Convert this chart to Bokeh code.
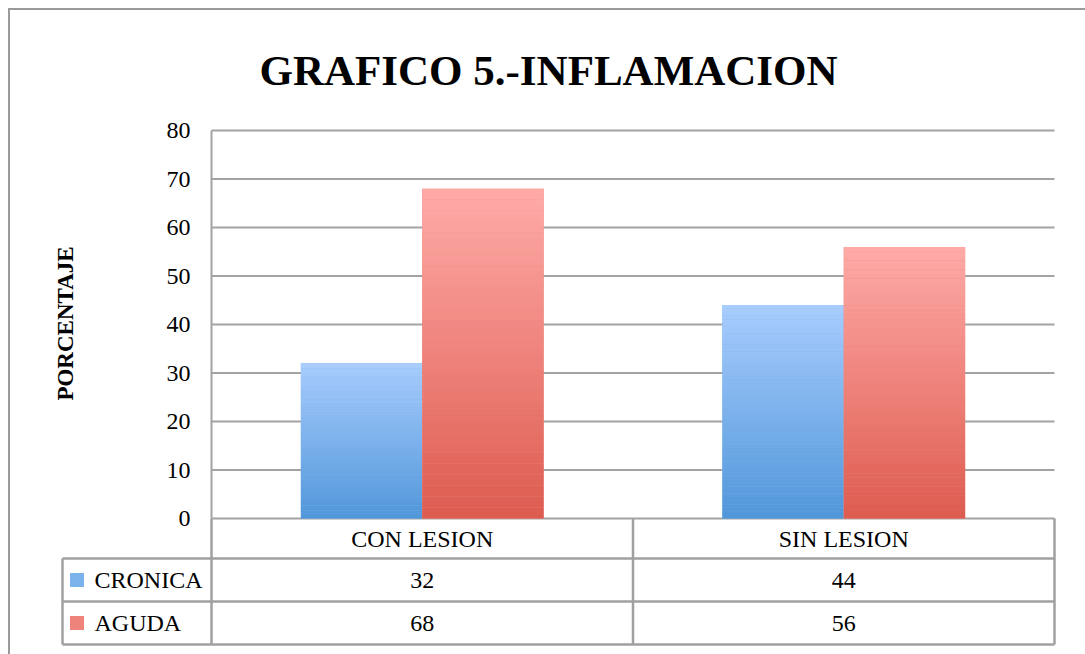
import numpy as np
from bokeh.plotting import figure
from bokeh.models import Range1d, LinearAxis, FixedTicker, Grid, InlineStyleSheet
from bokeh.core.properties import value
from bokeh.embed import file_html
from bokeh.resources import INLINE

# ---------------- data ----------------
title_text = "GRAFICO 5.-INFLAMACION"
y_label = "PORCENTAJE"
categories = ["CON LESION", "SIN LESION"]
series_names = ["CRONICA", "AGUDA"]
cronica = [32, 44]
aguda = [68, 56]
y_ticks = [0, 10, 20, 30, 40, 50, 60, 70, 80]

# ---------------- geometry (pixels) ----------------
W, H = 1085, 654
PX_X = 421.5          # pixels per category
PX_Y = 4.85           # pixels per percent
X0 = 211              # x of data x = 0
Y0 = 518              # y of data y = 0
frame_l, frame_r, frame_t, frame_b = 52, 1060, 120, 650


def fx(px):
    return (px - X0) / PX_X


def fy(py):
    return (Y0 - py) / PX_Y


FONT = "Liberation Serif"
LINE = "#a3a3a3"

border_css = InlineStyleSheet(css="""
:host { position: relative; }
:host::before {
  content: "";
  position: absolute;
  left: 8px; top: 8px; width: 1077px; height: 2px;
  background: #9a9a9a;
  pointer-events: none;
  z-index: 10;
}
:host::after {
  content: "";
  position: absolute;
  left: 8px; top: 8px; width: 2px; height: 646px;
  background: #9a9a9a;
  pointer-events: none;
  z-index: 10;
}
""")

p = figure(
    width=W, height=H,
    x_range=Range1d(fx(frame_l), fx(frame_r)),
    y_range=Range1d(fy(frame_b), fy(frame_t)),
    min_border_left=frame_l, min_border_right=W - frame_r,
    min_border_top=frame_t, min_border_bottom=H - frame_b,
    x_axis_location=None, y_axis_location=None,
    output_backend="svg", toolbar_location=None,
    outline_line_color=None,
    background_fill_color="white", border_fill_color="white",
    stylesheets=[border_css],
)
for r in p.center:
    if isinstance(r, Grid):
        r.visible = False

# title
p.title.text = title_text
p.title.align = "left"
p.title.text_font = FONT
p.title.text_font_style = "bold"
p.title.text_font_size = "43px"
p.title.text_color = "black"
p.title.standoff = 53
p.title.offset = 207

# y axis placed at the start of the plot area
yaxis = LinearAxis(
    fixed_location=0,
    ticker=FixedTicker(ticks=y_ticks),
    bounds=(y_ticks[0], y_ticks[-1]),
    axis_line_color=LINE, axis_line_width=2,
    major_tick_line_color=None, minor_tick_line_color=None,
    major_tick_in=0, major_tick_out=0,
    major_label_standoff=21,
    major_label_text_font=FONT,
    major_label_text_font_size="24px",
    major_label_text_color="black",
)
p.add_layout(yaxis, "left")

ncat = len(categories)

# horizontal gridlines
p.segment(x0=[0] * len(y_ticks), x1=[ncat] * len(y_ticks), y0=y_ticks, y1=y_ticks,
          line_color=LINE, line_width=2)

# bars with vertical gradient
BW = 0.288
N = 60
series = [
    (cronica, -1, "#5096d9", "#a9cdfe"),
    (aguda, 0, "#dd5b4f", "#ffaba8"),
]


def mix(c1, c2, t):
    a = [int(c1[i:i + 2], 16) for i in (1, 3, 5)]
    b = [int(c2[i:i + 2], 16) for i in (1, 3, 5)]
    return "#%02x%02x%02x" % tuple(int(round(a[k] + (b[k] - a[k]) * t)) for k in range(3))


for vals, side, c_bot, c_top in series:
    centers = [i + 0.5 + side * BW + BW / 2 for i in range(ncat)]
    p.vbar(x=centers, top=vals, width=BW, fill_color=mix(c_bot, c_top, 0.5), line_color=None)
    L, R, B, T, C = [], [], [], [], []
    for xc, v in zip(centers, vals):
        edges = np.linspace(0, v, N + 1)
        for k in range(N):
            L.append(xc - BW / 2)
            R.append(xc + BW / 2)
            B.append(edges[k])
            T.append(edges[k + 1] + (0.02 if k < N - 1 else 0))
            C.append(mix(c_bot, c_top, (k + 0.5) / N))
    p.quad(left=L, right=R, bottom=B, top=T, fill_color=C, line_color=None)

# data table
left_col = fx(62)
hdr_bot = fy(558)
row1_bot = fy(601)
tbl_bot = fy(644)
TL = "#a0a0a0"
vx = list(range(ncat + 1))
p.segment(x0=vx, x1=vx, y0=[0] * len(vx), y1=[tbl_bot] * len(vx), line_color=TL, line_width=2.5)
p.segment(x0=[left_col], x1=[left_col], y0=[hdr_bot], y1=[tbl_bot], line_color=TL, line_width=2.5)
hy = [hdr_bot, row1_bot, tbl_bot]
p.segment(x0=[left_col] * 3, x1=[ncat] * 3, y0=hy, y1=hy, line_color=TL, line_width=2.5)

hdr_mid = (0 + hdr_bot) / 2
row_mids = [(hdr_bot + row1_bot) / 2, (row1_bot + tbl_bot) / 2]

p.text(x=[i + 0.5 for i in range(ncat)], y=[hdr_mid] * ncat, text=categories,
       text_align="center", text_baseline="middle",
       text_font=value(FONT), text_font_size="24px", text_color="black")
for vals, ym in zip([cronica, aguda], row_mids):
    p.text(x=[i + 0.5 for i in range(ncat)], y=[ym] * ncat, text=[str(v) for v in vals],
           text_align="center", text_baseline="middle",
           text_font=value(FONT), text_font_size="24px", text_color="black")

p.text(x=[fx(94)] * 2, y=row_mids, text=series_names,
       text_align="left", text_baseline="middle",
       text_font=value(FONT), text_font_size="24px", text_color="black")
p.scatter(x=[fx(76.5)] * 2, y=row_mids, marker="square", size=14,
          fill_color=[mix(s[2], s[3], 0.5) for s in series], line_color=None)

# y label
p.text(x=[fx(65)], y=[fy(323)], text=[y_label], angle=np.pi / 2,
       text_align="center", text_baseline="middle",
       text_font=value(FONT), text_font_style="bold", text_font_size="23px",
       text_color="black")

open("out.html", "w").write(file_html(p, INLINE))
